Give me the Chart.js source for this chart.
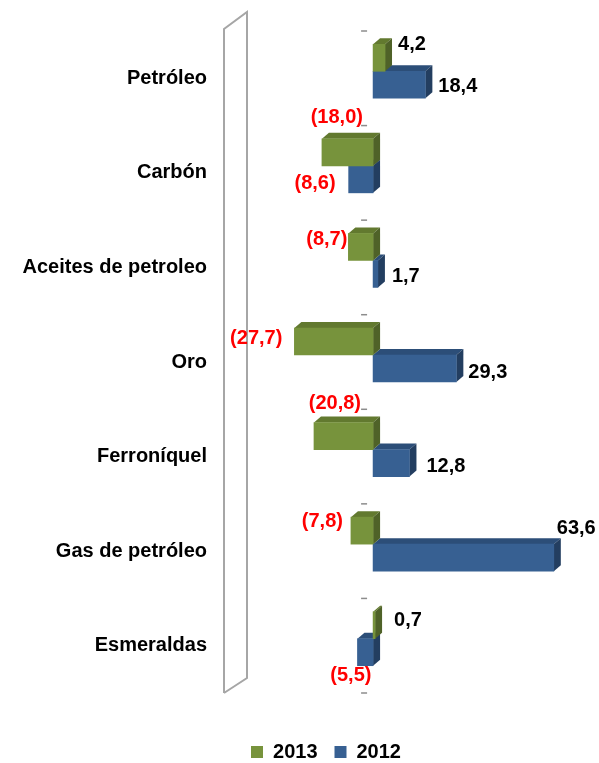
<!DOCTYPE html>
<html lang="es">
<head>
    <meta charset="UTF-8">
    <title>Variación por producto</title>
    <script src="https://cdn.jsdelivr.net/npm/chart.js"></script>
    <style>
        body { margin: 0; background: #fff; }
        #chart-container { width: 599px; height: 763px; position: relative; }
    </style>
</head>
<body>
    <div id="chart-container">
        <canvas id="bars-chart"></canvas>
    </div>

    <script>
        // data
        const categories = ["Petróleo", "Carbón", "Aceites de petroleo", "Oro", "Ferroníquel", "Gas de petróleo", "Esmeraldas"];
        const values2013 = [4.2, -18.0, -8.7, -27.7, -20.8, -7.8, 0.7];
        const values2012 = [18.4, -8.6, 1.7, 29.3, 12.8, 63.6, -5.5];
        const seriesNames = ["2013", "2012"];

        // where each value label sits, relative to the end of its bar (px)
        const labelShift2013 = [[13, -13], [41, -35], [-1, -7], [-12, -3.5], [47, -33], [-8, -9], [19, -5]];
        const labelShift2012 = [[13, 2], [-13, 4], [14, 3], [12, 3.5], [17, 3], [3, -29.5], [14, 23]];

        const green = { front: "#77933c", top: "#62792f", side: "#4f6228" };
        const blue = { front: "#376092", top: "#2c4e78", side: "#233e60" };
        const depthX = 7, depthY = 6;

        Chart.defaults.font.family = "'Liberation Sans', Arial, sans-serif";
        Chart.defaults.color = "#000";

        function fmt(v) {
            const s = Math.abs(v).toFixed(1).replace(".", ",");
            return v < 0 ? "(" + s + ")" : s;
        }

        // left wall + little category ticks + side/top faces of the bars
        const depthPlugin = {
            id: "depth",
            afterInit(chart) {
                const legend = chart.legend;
                const fit = legend.fit;
                legend.fit = function () {
                    fit.call(this);
                    this.height = 38;
                };
            },
            afterLayout(chart) {
                // legend sits a bit right of the page centre
                chart.legend.left += 80;
            },
            beforeDatasetsDraw(chart) {
                const ctx = chart.ctx;
                const area = chart.chartArea;
                const yScale = chart.scales.y;
                const zero = chart.scales.x.getPixelForValue(0);

                ctx.save();
                ctx.strokeStyle = "#a6a6a6";
                ctx.lineWidth = 2;
                ctx.beginPath();
                ctx.moveTo(area.left - 7, area.bottom + 7);
                ctx.lineTo(area.left - 7, area.top + 5);
                ctx.lineTo(area.left + 16, area.top - 12);
                ctx.lineTo(area.left + 16, area.bottom - 8);
                ctx.lineTo(area.left - 7, area.bottom + 7);
                ctx.stroke();

                const step = (area.bottom - area.top) / categories.length;
                ctx.strokeStyle = "#8c8c8c";
                ctx.lineWidth = 1.5;
                for (let i = 0; i <= categories.length; i++) {
                    const y = yScale.getPixelForValue(0) - step / 2 + i * step + 7;
                    ctx.beginPath();
                    ctx.moveTo(zero - 12, y);
                    ctx.lineTo(zero - 6, y);
                    ctx.stroke();
                }

                [1, 0].forEach(di => {
                    const colors = di === 0 ? green : blue;
                    chart.getDatasetMeta(di).data.forEach(el => {
                        const p = el.getProps(["x", "y", "base", "height"], true);
                        const left = Math.min(p.x, p.base);
                        const right = Math.max(p.x, p.base);
                        const top = p.y - p.height / 2;
                        const bottom = p.y + p.height / 2;

                        ctx.fillStyle = colors.top;
                        ctx.beginPath();
                        ctx.moveTo(left, top);
                        ctx.lineTo(left + depthX, top - depthY);
                        ctx.lineTo(right + depthX, top - depthY);
                        ctx.lineTo(right, top);
                        ctx.closePath();
                        ctx.fill();

                        ctx.fillStyle = colors.side;
                        ctx.beginPath();
                        ctx.moveTo(right, top);
                        ctx.lineTo(right + depthX, top - depthY);
                        ctx.lineTo(right + depthX, bottom - depthY);
                        ctx.lineTo(right, bottom);
                        ctx.closePath();
                        ctx.fill();
                    });
                });
                ctx.restore();
            },
            afterDatasetsDraw(chart) {
                const ctx = chart.ctx;
                ctx.save();
                ctx.font = "bold 20px 'Liberation Sans', Arial, sans-serif";
                ctx.textBaseline = "middle";
                [[0, values2013, labelShift2013], [1, values2012, labelShift2012]].forEach(([di, vals, shift]) => {
                    chart.getDatasetMeta(di).data.forEach((el, i) => {
                        const v = vals[i];
                        const p = el.getProps(["x", "y"], true);
                        ctx.fillStyle = v < 0 ? "#ff0000" : "#000";
                        ctx.textAlign = v < 0 ? "right" : "left";
                        ctx.fillText(fmt(v), p.x + shift[i][0], p.y + shift[i][1]);
                    });
                });
                ctx.restore();
            }
        };

        const ctx = document.getElementById("bars-chart").getContext("2d");
        new Chart(ctx, {
            type: "bar",
            data: {
                labels: categories,
                datasets: [{
                    label: seriesNames[0],
                    data: values2013,
                    backgroundColor: green.front,
                    barThickness: 27
                }, {
                    label: seriesNames[1],
                    data: values2012,
                    backgroundColor: blue.front,
                    barThickness: 27
                }]
            },
            options: {
                indexAxis: "y",
                responsive: true,
                maintainAspectRatio: false,
                animation: false,
                layout: { padding: { top: 24, right: 27, bottom: 0, left: 0 } },
                scales: {
                    x: {
                        min: -50,
                        max: 70,
                        grid: { display: false },
                        border: { display: false },
                        ticks: { display: false },
                        afterFit: s => { s.height = 39; }
                    },
                    y: {
                        grid: { display: false, drawTicks: false },
                        border: { display: false },
                        ticks: {
                            padding: 24,
                            labelOffset: 7,
                            color: "#000",
                            font: { size: 20, weight: "bold" }
                        },
                        afterFit: s => {
                            s.width = 231;
                            s.paddingTop = 0;
                            s.paddingBottom = 0;
                        }
                    }
                },
                plugins: {
                    legend: {
                        position: "bottom",
                        labels: {
                            boxWidth: 12,
                            boxHeight: 12,
                            padding: 17,
                            color: "#000",
                            font: { size: 20, weight: "bold" }
                        }
                    },
                    tooltip: { enabled: false }
                }
            },
            plugins: [depthPlugin]
        });
    </script>
</body>
</html>
